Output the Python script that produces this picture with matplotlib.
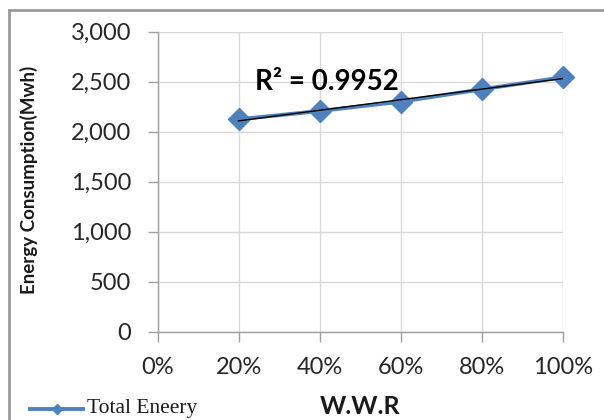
import matplotlib
matplotlib.use("Agg")
import matplotlib.pyplot as plt
import numpy as np
from matplotlib.patches import Rectangle
from matplotlib.lines import Line2D
from matplotlib.ticker import FuncFormatter

# data
wwr = [0.2, 0.4, 0.6, 0.8, 1.0]
energy = [2124, 2207, 2300, 2424, 2544]
x_ticks = [0, 0.2, 0.4, 0.6, 0.8, 1.0]
y_ticks = [0, 500, 1000, 1500, 2000, 2500, 3000]
series_name = "Total Eneery"
r2_text = "R² = 0.9952"

fig = plt.figure(figsize=(6.04, 4.20), dpi=100)
fig.patch.set_facecolor("white")

# outer frame
fig.patches.append(Rectangle((9/604, -0.1), 1.2, (1 - 10/420) + 0.1,
                             transform=fig.transFigure, fill=False,
                             edgecolor="#9a9a9a", lw=2.0, zorder=0))

ax = fig.add_axes([157.5/604, 1 - 331.7/420, (562.7 - 157.5)/604, (331.7 - 31.7)/420])
ax.set_xlim(0, 1.0)
ax.set_ylim(0, 3000)
ax.set_xticks(x_ticks)
ax.set_yticks(y_ticks)
ax.xaxis.set_major_formatter(FuncFormatter(lambda v, p: f"{v*100:.0f}%"))
ax.yaxis.set_major_formatter(FuncFormatter(lambda v, p: f"{v:,.0f}"))

ax.grid(True, color="#d9d9d9", lw=1.0)
ax.set_axisbelow(True)
for s in ["top", "right"]:
    ax.spines[s].set_visible(False)
for s in ["left", "bottom"]:
    ax.spines[s].set_color("#a0a0a0")
    ax.spines[s].set_linewidth(1.0)

ax.tick_params(axis="both", colors="#a0a0a0", length=7, width=1.0,
               labelcolor="#262626", labelsize=17)
ax.tick_params(axis="y", pad=12)
ax.tick_params(axis="x", pad=11)
for lab in ax.get_xticklabels() + ax.get_yticklabels():
    lab.set_fontfamily("Lato")

color = "#4f81bd"
ax.plot(wwr, energy, color=color, lw=2.8, marker="D", ms=11, zorder=3, clip_on=False)

# linear trendline
coef = np.polyfit(wwr, energy, 1)
xt = np.array([wwr[0], wwr[-1]])
ax.plot(xt, np.polyval(coef, xt), color="black", lw=1.0, zorder=4)

ax.text(0.24, 2500, r2_text, fontsize=20, fontweight="bold", family="Lato",
        color="black", ha="left", va="center")

fig.text(29/604, 1 - 180/420, "Energy Consumption(Mwh)", rotation=90,
         fontsize=13.5, fontweight="bold", family="Lato", ha="center", va="center",
         color="#1a1a1a")
fig.text(360/604, 1 - 407/420, "W.W.R", fontsize=18, fontweight="bold",
         family="Lato", ha="center", va="center", color="#1a1a1a")

# legend
fig.add_artist(Line2D([30/604, 83/604], [1 - 409/420, 1 - 409/420],
                      transform=fig.transFigure, color=color, lw=2.8))
fig.add_artist(Line2D([57/604], [1 - 409/420], transform=fig.transFigure,
                      color=color, marker="D", ms=5, lw=0))
fig.text(87/604, 1 - 408/420, series_name, fontsize=15.5, family="Liberation Serif",
         ha="left", va="center", color="#1a1a1a")

fig.savefig("out.png", dpi=100, facecolor="white")
